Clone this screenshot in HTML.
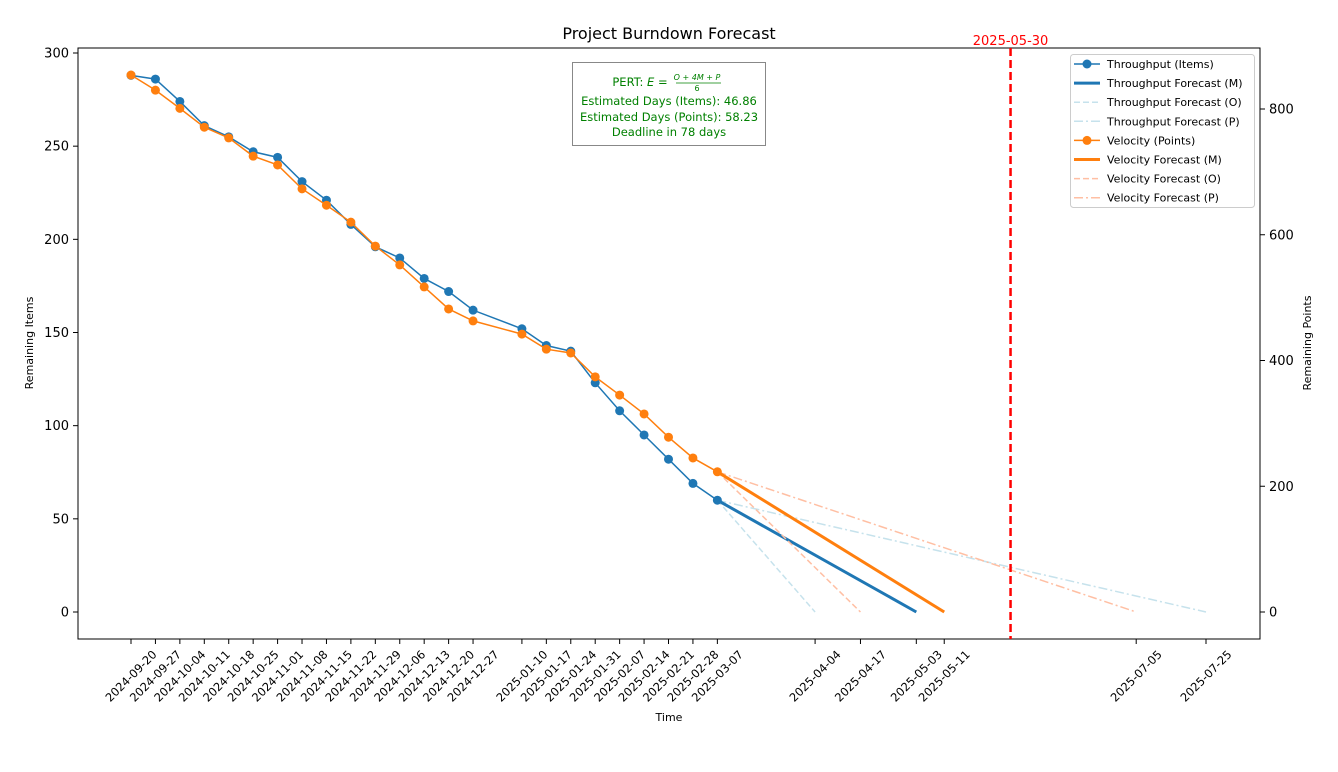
<!DOCTYPE html>
<html><head><meta charset="utf-8"><style>
body{margin:0;background:#fff;}
svg text{font-family:"DejaVu Sans","Liberation Sans",sans-serif;}
</style></head><body>
<svg id="chart" width="1338" height="767" xmlns="http://www.w3.org/2000/svg"></svg>
<script>
const tickDates=["2024-09-20","2024-09-27","2024-10-04","2024-10-11","2024-10-18","2024-10-25","2024-11-01","2024-11-08","2024-11-15","2024-11-22","2024-11-29","2024-12-06","2024-12-13","2024-12-20","2024-12-27","2025-01-10","2025-01-17","2025-01-24","2025-01-31","2025-02-07","2025-02-14","2025-02-21","2025-02-28","2025-03-07","2025-04-04","2025-04-17","2025-05-03","2025-05-11","2025-07-05","2025-07-25"];
const histDates=tickDates.slice(0,24);
const itemsValues=[288,286,274,261,255,247,244,231,221,208,196,190,179,172,162,152,143,140,123,108,95,82,69,60];
const pointsValues=[854,830,801,771,754,725,711,673,647,620,582,552,517,482,463,442,418,412,374,345,315,278,245,223];
const itemsForecastEnd={M:"2025-05-03",O:"2025-04-04",P:"2025-07-25"};
const pointsForecastEnd={M:"2025-05-11",O:"2025-04-17",P:"2025-07-05"};
const deadline="2025-05-30";
const leftTicks=[0,50,100,150,200,250,300];
const rightTicks=[0,200,400,600,800];

const NS="http://www.w3.org/2000/svg";
const svg=document.getElementById('chart');
function el(tag,attrs,parent){const e=document.createElementNS(NS,tag);for(const k in attrs)e.setAttribute(k,attrs[k]);(parent||svg).appendChild(e);return e;}
const base=Date.UTC(2024,8,20);
function days(d){const p=d.split('-').map(Number);return (Date.UTC(p[0],p[1]-1,p[2])-base)/86400000;}
const xS=d=>131+days(d)*(1075/308);
const yL=v=>612-v*(559/300);
const yR=v=>612-v*(503/800);

// axes frame
const frame=el('rect',{x:78,y:48,width:1182,height:591,fill:'none',stroke:'#000','stroke-width':1});


const t=el('text',{x:669,y:39,'text-anchor':'middle','font-size':16});t.textContent='Project Burndown Forecast';



// x ticks
tickDates.forEach(d=>{const x=xS(d);
 el('line',{x1:x,y1:639,x2:x,y2:644,stroke:'#000'});
 const tx=el('text',{x:x,y:680,'text-anchor':'middle','font-size':11.5,transform:`rotate(-45 ${x} 676)`});tx.textContent=d;
 
 
});
leftTicks.forEach(v=>{const y=yL(v);el('line',{x1:73,y1:y,x2:78,y2:y,stroke:'#000'});
 const tx=el('text',{x:69,y:y+4.5,'text-anchor':'end','font-size':13});tx.textContent=v;
 
 });
rightTicks.forEach(v=>{const y=yR(v);el('line',{x1:1260,y1:y,x2:1265,y2:y,stroke:'#000'});
 const tx=el('text',{x:1269,y:y+4.5,'font-size':13});tx.textContent=v;
 
 });
let a=el('text',{x:669,y:721,'text-anchor':'middle','font-size':11});a.textContent='Time';

a=el('text',{x:0,y:0,'text-anchor':'middle','font-size':11,transform:'translate(33 343) rotate(-90)'});a.textContent='Remaining Items';

a=el('text',{x:0,y:0,'text-anchor':'middle','font-size':11,transform:'translate(1311 343) rotate(-90)'});a.textContent='Remaining Points';


function series(dates,vals,ys,color,name){
 const pts=dates.map((d,i)=>xS(d)+','+ys(vals[i])).join(' ');
 const pl=el('polyline',{points:pts,fill:'none',stroke:color,'stroke-width':1.5});
 
 dates.forEach((d,i)=>{const c=el('circle',{cx:xS(d),cy:ys(vals[i]),r:4.5,fill:color});
  });
}
function forecast(startD,startV,ends,ys,cM,cL,name){
 const x0=xS(startD),y0=ys(startV);
 let l=el('line',{x1:x0,y1:y0,x2:xS(ends.O),y2:ys(0),stroke:cL,'stroke-width':1.5,'stroke-dasharray':'6,3'});
 
 l=el('line',{x1:x0,y1:y0,x2:xS(ends.P),y2:ys(0),stroke:cL,'stroke-width':1.5,'stroke-dasharray':'9,3,2,3'});
 
 l=el('line',{x1:x0,y1:y0,x2:xS(ends.M),y2:ys(0),stroke:cM,'stroke-width':3});
 
}
forecast(histDates[23],itemsValues[23],itemsForecastEnd,yL,'#1f77b4','#c6e2ec','throughput');
forecast(histDates[23],pointsValues[23],pointsForecastEnd,yR,'#ff7f0e','#ffbfa3','velocity');
series(histDates,itemsValues,yL,'#1f77b4','throughput');
series(histDates,pointsValues,yR,'#ff7f0e','velocity');

const dx=xS(deadline);
let dl=el('line',{x1:dx,y1:48,x2:dx,y2:639,stroke:'#ff0000','stroke-width':2.5,'stroke-dasharray':'8,4'});

dl=el('text',{x:dx,y:45,'text-anchor':'middle','font-size':13,fill:'#ff0000'});dl.textContent=deadline;


// PERT box
const g=el('g',{});
el('rect',{x:572.5,y:62.5,width:193,height:83,fill:'#fff',stroke:'#888'},g);
const lines=[["PERT: ",86],["Estimated Days (Items): 46.86",105],["Estimated Days (Points): 58.23",121],["Deadline in 78 days",136]];
let pt=el('text',{x:669,y:86,'text-anchor':'middle','font-size':11.5,fill:'#008000'},g);
pt.innerHTML='PERT: <tspan font-style="italic">E</tspan> = ';
el('text',{x:697,y:80,'text-anchor':'middle','font-size':8,fill:'#008000','font-style':'italic'},g).textContent='O + 4M + P';
el('line',{x1:676,y1:83,x2:721,y2:83,stroke:'#008000','stroke-width':0.8},g);
el('text',{x:697,y:91,'text-anchor':'middle','font-size':8,fill:'#008000'},g).textContent='6';
pt.setAttribute('x',640);
for(let i=1;i<4;i++){el('text',{x:669,y:lines[i][1],'text-anchor':'middle','font-size':11.5,fill:'#008000'},g).textContent=lines[i][0];}

// legend
const lg=el('g',{});
el('rect',{x:1070.5,y:54.5,width:184,height:153,rx:3,fill:'#fff',stroke:'#ccc'},lg);
const items=[["Throughput (Items)",'#1f77b4',1.5,null,true],["Throughput Forecast (M)",'#1f77b4',3,null,false],["Throughput Forecast (O)",'#c6e2ec',1.5,'6,3',false],["Throughput Forecast (P)",'#c6e2ec',1.5,'9,3,2,3',false],["Velocity (Points)",'#ff7f0e',1.5,null,true],["Velocity Forecast (M)",'#ff7f0e',3,null,false],["Velocity Forecast (O)",'#ffbfa3',1.5,'6,3',false],["Velocity Forecast (P)",'#ffbfa3',1.5,'9,3,2,3',false]];
items.forEach((it,i)=>{const y=64+i*19.1;
 const e=el('g',{},lg);
 const at={x1:1074,y1:y,x2:1100,y2:y,stroke:it[1],'stroke-width':it[2]};if(it[3])at['stroke-dasharray']=it[3];
 el('line',at,e);if(it[4])el('circle',{cx:1087,cy:y,r:4.5,fill:it[1]},e);
 el('text',{x:1107,y:y+4,'font-size':11},e).textContent=it[0];});
</script>
</body></html>
